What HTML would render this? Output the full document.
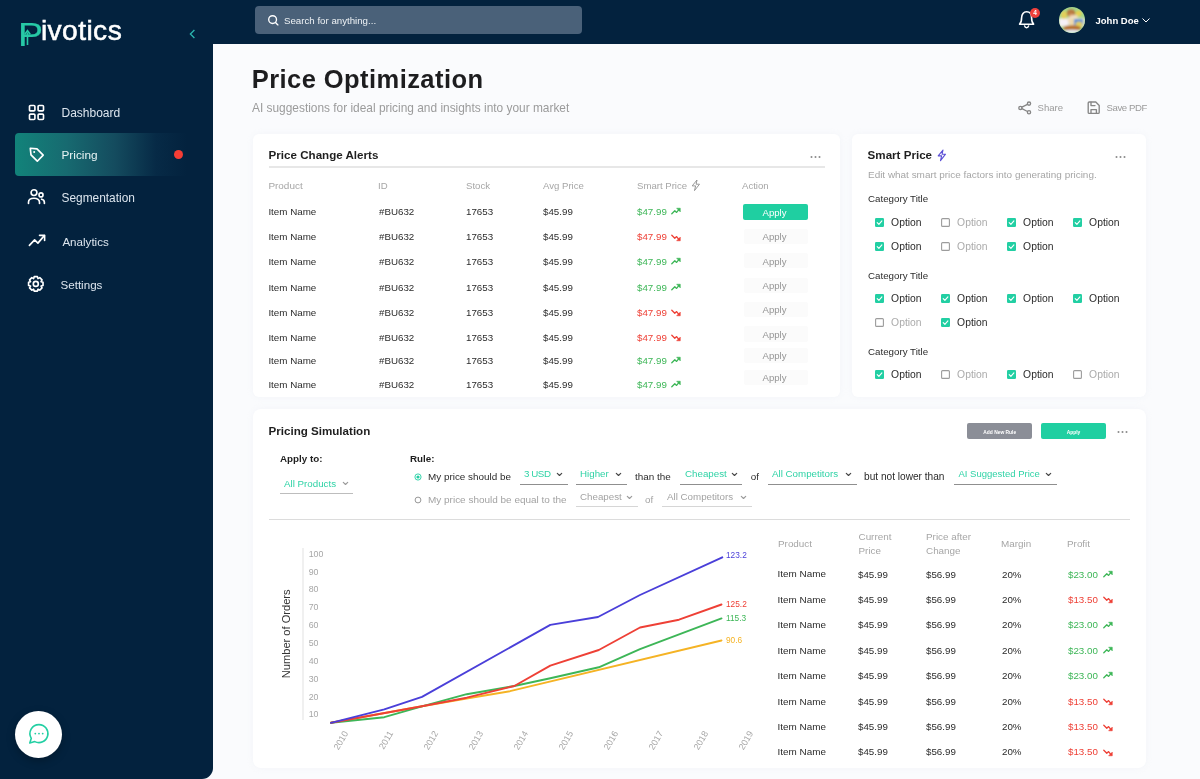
<!DOCTYPE html>
<html lang="en">
<head>
<meta charset="utf-8">
<title>Pivotics - Price Optimization</title>
<style>
*{box-sizing:border-box;margin:0;padding:0}
html,body{width:1200px;height:779px;overflow:hidden}
body{position:relative;background:#fafbfd;font-family:"Liberation Sans","DejaVu Sans",sans-serif;color:#222;font-size:10px}
.abs{position:absolute}
.t{position:absolute;white-space:nowrap;line-height:1}
.card{position:absolute;background:#fff;border-radius:6px;box-shadow:0 0 6px rgba(228,232,238,.3)}
</style>
</head>
<body>

<div class="abs" style="left:0px;top:0px;width:1200px;height:44px;background:#03223e;"></div>
<div class="abs" style="left:0px;top:0px;width:213px;height:779px;background:#03223e;border-bottom-right-radius:11px"></div>
<svg class="abs" style="left:23.6px;top:28px;" width="8" height="18" viewBox="0 0 8 18" fill="none"><path d="M3.5 17V4.5M0.8 6.2L3.5 2.6L6.2 6.2" stroke="#27c9a6" stroke-width="1.6"/></svg>
<div class="t" style="left:17.5px;top:16.2px;font-size:28.2px;height:30px;color:#fff;letter-spacing:.42px;-webkit-text-stroke:.55px #fff"><span style="display:inline-block;width:23.4px;height:10px;line-height:10px;font-size:33.5px;letter-spacing:0;color:#27c9a6;-webkit-text-stroke:.2px #27c9a6;transform:translateY(5.7px) scaleX(1.12);transform-origin:0 0;vertical-align:baseline">P</span>ivotics</div>
<svg class="abs" style="left:187px;top:28px;" width="10" height="12" viewBox="0 0 10 12" fill="none"><path d="M7.4 2L3.4 6L7.4 10" stroke="#2bb7b0" stroke-width="1.3"/></svg>
<div class="abs" style="left:15px;top:133.2px;width:172px;height:42.6px;background:linear-gradient(90deg,#12837a 0%,#176a70 30%,rgba(22,80,98,.9) 58%,rgba(10,50,78,.5) 82%,rgba(3,33,62,0) 100%);border-radius:4px"></div>
<div class="abs" style="left:173.5px;top:149.5px;width:9px;height:9px;border-radius:50%;background:#f53d35"></div>
<div class="t " style="left:61.5px;top:107.16px;font-size:12px;color:#dce5ee;font-weight:400;">Dashboard</div>
<div class="t " style="left:61.5px;top:150.24px;font-size:11.8px;color:#e8f4f4;font-weight:400;">Pricing</div>
<div class="t " style="left:61.5px;top:192.60px;font-size:11.9px;color:#dce5ee;font-weight:400;">Segmentation</div>
<div class="t " style="left:62.4px;top:235.53px;font-size:11.6px;color:#dce5ee;font-weight:400;">Analytics</div>
<div class="t " style="left:60.5px;top:278.53px;font-size:11.6px;color:#dce5ee;font-weight:400;">Settings</div>
<svg class="abs" style="left:28px;top:103.5px;" width="17" height="17" viewBox="0 0 17 17" fill="none"><g stroke="#fff" stroke-width="1.65" stroke-linecap="round" stroke-linejoin="round"><rect x="1.5" y="1.5" width="5.4" height="5.4" rx="1"/><rect x="10.1" y="1.5" width="5.4" height="5.4" rx="1"/><rect x="1.5" y="10.1" width="5.4" height="5.4" rx="1"/><rect x="10.1" y="10.1" width="5.4" height="5.4" rx="1"/></g></svg>
<svg class="abs" style="left:28px;top:146px;" width="17" height="17" viewBox="0 0 17 17" fill="none"><g stroke="#fff" stroke-width="1.65" stroke-linecap="round" stroke-linejoin="round"><path d="M2.3 2.3L9 2.9L15.2 9.1L9.3 15.2L3 8.9Z"/></g><circle cx="6.2" cy="6.1" r="1" fill="#fff"/></svg>
<svg class="abs" style="left:27px;top:188px;" width="19" height="17" viewBox="0 0 19 17" fill="none"><g stroke="#fff" stroke-width="1.65" stroke-linecap="round" stroke-linejoin="round"><circle cx="7" cy="4.6" r="2.9"/><path d="M1.5 15.5V14.2C1.5 11.8 3.6 10.2 7 10.2S12.5 11.8 12.5 14.2V15.5"/><circle cx="14" cy="6.9" r="2"/><path d="M14.6 11.2C16.4 11.5 17.4 12.7 17.4 14.4V15.5"/></g></svg>
<svg class="abs" style="left:28px;top:233px;" width="18" height="15" viewBox="0 0 18 15" fill="none"><g stroke="#fff" stroke-width="1.65" stroke-linecap="round" stroke-linejoin="round"><path d="M1.4 12.4L6.6 6.9L9.9 10.1L16.3 2.6"/><path d="M11.5 2.3H16.6V7.4"/></g></svg>
<svg class="abs" style="left:27px;top:275px;" width="18" height="18" viewBox="0 0 18 18" fill="none"><g stroke="#fff" stroke-width="1.65" stroke-linecap="round" stroke-linejoin="round"><path d="M16.02 7.29L16.02 10.51L14.07 11.07L14.06 11.10L15.05 12.86L12.76 15.15L11.00 14.16L10.97 14.17L10.41 16.12L7.19 16.12L6.63 14.17L6.60 14.16L4.84 15.15L2.55 12.86L3.54 11.10L3.53 11.07L1.58 10.51L1.58 7.29L3.53 6.73L3.54 6.70L2.55 4.94L4.84 2.65L6.60 3.64L6.63 3.63L7.19 1.68L10.41 1.68L10.97 3.63L11.00 3.64L12.76 2.65L15.05 4.94L14.06 6.70L14.07 6.73Z"/><circle cx="8.8" cy="8.9" r="2.5"/></g></svg>
<div class="abs" style="left:15.2px;top:710.6px;width:47px;height:47.3px;border-radius:50%;background:#fff;box-shadow:0 3px 8px rgba(0,0,0,.25)"></div>
<svg class="abs" style="left:27px;top:722.3px;" width="24" height="24" viewBox="0 0 24 24" fill="none"><path d="M12 2.6a9 9 0 1 1 -4.2 17l-5 1.4 1.5-4.7A9 9 0 0 1 12 2.6Z" stroke="#22cfa3" stroke-width="1.6" stroke-linejoin="round"/><circle cx="8.3" cy="11.6" r=".9" fill="#22cfa3"/><circle cx="12" cy="11.6" r=".9" fill="#22cfa3"/><circle cx="15.7" cy="11.6" r=".9" fill="#22cfa3"/></svg>
<div class="abs" style="left:255px;top:6px;width:327px;height:28.3px;background:#4a6179;border-radius:4px"></div>
<svg class="abs" style="left:266.8px;top:13.6px;" width="14" height="14" viewBox="0 0 14 14" fill="none"><circle cx="5.6" cy="5.6" r="3.9" stroke="#fff" stroke-width="1.35"/><path d="M8.5 8.5L10.9 10.9" stroke="#fff" stroke-width="1.35" stroke-linecap="round"/></svg>
<div class="t " style="left:284px;top:16.23px;font-size:9.7px;color:#eef2f5;font-weight:400;">Search for anything...</div>
<svg class="abs" style="left:1016px;top:8px;" width="22" height="24" viewBox="0 0 22 24" fill="none"><path d="M3.6 16.2C5.2 14.8 5.6 13 5.6 9.8C5.6 6.2 7.6 3.8 10.6 3.8S15.6 6.2 15.6 9.8C15.6 13 16 14.8 17.6 16.2Z" stroke="#fff" stroke-width="1.6" stroke-linejoin="round"/><path d="M8.6 17.9C8.9 19.1 9.7 19.7 10.6 19.7S12.3 19.1 12.6 17.9" stroke="#fff" stroke-width="1.5" stroke-linecap="round"/></svg>
<div class="abs" style="left:1030px;top:7.5px;width:10px;height:10px;border-radius:50%;background:#f0413c"></div>
<div class="t " style="left:1033.2px;top:9.87px;font-size:6.5px;color:#fff;font-weight:700;">4</div>
<svg class="abs" style="left:1059px;top:7.3px;" width="26" height="26" viewBox="0 0 26 26" fill="none"><defs><clipPath id="avc"><circle cx="13" cy="13" r="13"/></clipPath><filter id="avb" x="-20%" y="-20%" width="140%" height="140%"><feGaussianBlur stdDeviation="0.9"/></filter></defs><g clip-path="url(#avc)"><rect width="26" height="26" fill="#a5d68c"/><g filter="url(#avb)"><rect x="0" y="11" width="26" height="9" fill="#dfe3c8"/><ellipse cx="5" cy="8" rx="3" ry="4" fill="#e3cf5a"/><ellipse cx="19.5" cy="6.5" rx="3" ry="3" fill="#e6d04e"/><ellipse cx="12" cy="6" rx="4.2" ry="3.8" fill="#b9793f"/><ellipse cx="12.2" cy="8.8" rx="2.6" ry="2" fill="#d9a06a"/><rect x="0" y="12" width="9" height="6.5" fill="#f6f1f7"/><path d="M8 13C10 8 16 7 19 9L18 12C15 10 12 11 11.5 18Z" fill="#f1dcc0"/><rect x="15" y="12" width="9" height="7" rx="1" fill="#5c90d8"/><ellipse cx="20" cy="17.5" rx="3.5" ry="3" fill="#e2d060"/><rect x="11.5" y="12" width="3.5" height="8" fill="#efd9a8"/><ellipse cx="13" cy="21" rx="9" ry="2.8" fill="#b9722f"/><ellipse cx="13" cy="24.5" rx="8" ry="1.8" fill="#e4edf3"/></g></g></svg>
<div class="t " style="left:1095.5px;top:16.21px;font-size:9.5px;color:#fff;font-weight:700;">John Doe</div>
<svg class="abs" style="left:1141px;top:17px;" width="10" height="7" viewBox="0 0 10 7" fill="none"><path d="M1.5 1.5L5 5L8.5 1.5" stroke="#fff" stroke-width="1"/></svg>
<div class="t " style="left:251.8px;top:66.59px;font-size:25.5px;color:#1d1d1f;font-weight:700;letter-spacing:.43px">Price Optimization</div>
<div class="t " style="left:252px;top:103.20px;font-size:11.9px;color:#9b9b9b;font-weight:400;">AI suggestions for ideal pricing and insights into your market</div>
<svg class="abs" style="left:1017px;top:100px;" width="16" height="15" viewBox="0 0 16 15" fill="none"><g stroke="#868686" stroke-width="1.35" stroke-linecap="round" stroke-linejoin="round"><circle cx="3.4" cy="7.9" r="1.6"/><circle cx="12" cy="3.6" r="1.6"/><circle cx="12" cy="12.2" r="1.6"/><path d="M4.9 7.1L10.5 4.3M4.9 8.7L10.5 11.5"/></g></svg>
<div class="t " style="left:1037.5px;top:103.47px;font-size:9.6px;color:#9b9b9b;font-weight:400;">Share</div>
<svg class="abs" style="left:1086px;top:100px;" width="16" height="15" viewBox="0 0 16 15" fill="none"><g stroke="#868686" stroke-width="1.35" stroke-linecap="round" stroke-linejoin="round"><path d="M3.2 2H9.8L13.2 5.4V12.4Q13.2 13.4 12.2 13.4H3.2Q2.2 13.4 2.2 12.4V3Q2.2 2 3.2 2Z"/><path d="M5 2.2V5.6H9"/><path d="M5 13.2V9.6H10.4V13.2"/></g></svg>
<div class="t " style="left:1106.5px;top:103.47px;font-size:9.6px;color:#9b9b9b;font-weight:400;letter-spacing:-.42px">Save PDF</div>
<div class="card" style="left:253px;top:134px;width:587px;height:263px"></div>
<div class="card" style="left:852px;top:134px;width:294px;height:263px"></div>
<div class="card" style="left:253px;top:409px;width:893px;height:359px;border-radius:8px"></div>
<div class="t " style="left:268.6px;top:148.93px;font-size:11.6px;color:#1f1f1f;font-weight:700;">Price Change Alerts</div>
<svg class="abs" style="left:810px;top:154.5px;" width="12" height="4" viewBox="0 0 12 4" fill="none"><circle cx="1.5" cy="2" r="1" fill="#8a8a8a"/><circle cx="5.5" cy="2" r="1" fill="#8a8a8a"/><circle cx="9.5" cy="2" r="1" fill="#8a8a8a"/></svg>
<div class="abs" style="left:269px;top:166.4px;width:556px;height:1.6px;background:#e7e7e7;"></div>
<div class="t " style="left:268.4px;top:180.52px;font-size:9.95px;color:#a6a6a6;font-weight:400;">Product</div>
<div class="t " style="left:378px;top:180.67px;font-size:9.6px;color:#a6a6a6;font-weight:400;">ID</div>
<div class="t " style="left:466px;top:180.67px;font-size:9.6px;color:#a6a6a6;font-weight:400;">Stock</div>
<div class="t " style="left:543px;top:180.67px;font-size:9.6px;color:#a6a6a6;font-weight:400;">Avg Price</div>
<div class="t " style="left:637px;top:180.67px;font-size:9.6px;color:#a6a6a6;font-weight:400;">Smart Price</div>
<div class="t " style="left:742px;top:180.67px;font-size:9.6px;color:#a6a6a6;font-weight:400;">Action</div>
<svg class="abs" style="left:690.5px;top:179.2px;" width="10" height="13" viewBox="0 0 10 13" fill="none"><path d="M6 1L1.2 6.9H4.6L3.5 11.6L8.5 5.2H5.1Z" stroke="#8c8c8c" stroke-width="0.9" stroke-linejoin="round"/></svg>
<div class="t " style="left:268.4px;top:206.98px;font-size:9.8px;color:#2b2b2b;font-weight:400;">Item Name</div>
<div class="t " style="left:379px;top:207.00px;font-size:9.75px;color:#2b2b2b;font-weight:400;">#BU632</div>
<div class="t " style="left:466px;top:207.00px;font-size:9.75px;color:#2b2b2b;font-weight:400;">17653</div>
<div class="t " style="left:543px;top:207.00px;font-size:9.75px;color:#2b2b2b;font-weight:400;">$45.99</div>
<div class="t " style="left:637px;top:207.00px;font-size:9.75px;color:#3db657;font-weight:400;">$47.99</div>
<svg class="abs" style="left:671px;top:207.2px;" width="10" height="8" viewBox="0 0 10 8" fill="none"><path d="M0.8 6.8L3.8 3.8L5.6 5.4L8.2 2.2" stroke="#3db657" stroke-width="1.3" stroke-linecap="round" stroke-linejoin="round"/><path d="M5.6 1.2H9.3V4.9Z" fill="#3db657" stroke="#3db657" stroke-width=".5" stroke-linejoin="round"/></svg>
<div class="abs" style="left:743px;top:204.2px;width:64.5px;height:15.8px;background:#1fcfa1;border-radius:2px"></div>
<div class="t " style="left:762.5px;top:207.77px;font-size:9.6px;color:#fff;font-weight:400;">Apply</div>
<div class="t " style="left:268.4px;top:232.18px;font-size:9.8px;color:#2b2b2b;font-weight:400;">Item Name</div>
<div class="t " style="left:379px;top:232.20px;font-size:9.75px;color:#2b2b2b;font-weight:400;">#BU632</div>
<div class="t " style="left:466px;top:232.20px;font-size:9.75px;color:#2b2b2b;font-weight:400;">17653</div>
<div class="t " style="left:543px;top:232.20px;font-size:9.75px;color:#2b2b2b;font-weight:400;">$45.99</div>
<div class="t " style="left:637px;top:232.20px;font-size:9.75px;color:#ee4036;font-weight:400;">$47.99</div>
<svg class="abs" style="left:671px;top:233.7px;" width="10" height="8" viewBox="0 0 10 8" fill="none"><path d="M0.8 1.2L3.8 4.2L5.6 2.6L8.2 5.8" stroke="#ee4036" stroke-width="1.3" stroke-linecap="round" stroke-linejoin="round"/><path d="M5.6 6.8H9.3V3.1Z" fill="#ee4036" stroke="#ee4036" stroke-width=".5" stroke-linejoin="round"/></svg>
<div class="abs" style="left:744px;top:228.7px;width:64px;height:15.4px;background:#fbfbfb;border-radius:2px"></div>
<div class="t " style="left:762.5px;top:232.27px;font-size:9.6px;color:#959595;font-weight:400;">Apply</div>
<div class="t " style="left:268.4px;top:257.18px;font-size:9.8px;color:#2b2b2b;font-weight:400;">Item Name</div>
<div class="t " style="left:379px;top:257.20px;font-size:9.75px;color:#2b2b2b;font-weight:400;">#BU632</div>
<div class="t " style="left:466px;top:257.20px;font-size:9.75px;color:#2b2b2b;font-weight:400;">17653</div>
<div class="t " style="left:543px;top:257.20px;font-size:9.75px;color:#2b2b2b;font-weight:400;">$45.99</div>
<div class="t " style="left:637px;top:257.20px;font-size:9.75px;color:#3db657;font-weight:400;">$47.99</div>
<svg class="abs" style="left:671px;top:257.40000000000003px;" width="10" height="8" viewBox="0 0 10 8" fill="none"><path d="M0.8 6.8L3.8 3.8L5.6 5.4L8.2 2.2" stroke="#3db657" stroke-width="1.3" stroke-linecap="round" stroke-linejoin="round"/><path d="M5.6 1.2H9.3V4.9Z" fill="#3db657" stroke="#3db657" stroke-width=".5" stroke-linejoin="round"/></svg>
<div class="abs" style="left:744px;top:253.09999999999997px;width:64px;height:15.4px;background:#fbfbfb;border-radius:2px"></div>
<div class="t " style="left:762.5px;top:256.67px;font-size:9.6px;color:#959595;font-weight:400;">Apply</div>
<div class="t " style="left:268.4px;top:282.58px;font-size:9.8px;color:#2b2b2b;font-weight:400;">Item Name</div>
<div class="t " style="left:379px;top:282.61px;font-size:9.75px;color:#2b2b2b;font-weight:400;">#BU632</div>
<div class="t " style="left:466px;top:282.61px;font-size:9.75px;color:#2b2b2b;font-weight:400;">17653</div>
<div class="t " style="left:543px;top:282.61px;font-size:9.75px;color:#2b2b2b;font-weight:400;">$45.99</div>
<div class="t " style="left:637px;top:282.61px;font-size:9.75px;color:#3db657;font-weight:400;">$47.99</div>
<svg class="abs" style="left:671px;top:282.80000000000007px;" width="10" height="8" viewBox="0 0 10 8" fill="none"><path d="M0.8 6.8L3.8 3.8L5.6 5.4L8.2 2.2" stroke="#3db657" stroke-width="1.3" stroke-linecap="round" stroke-linejoin="round"/><path d="M5.6 1.2H9.3V4.9Z" fill="#3db657" stroke="#3db657" stroke-width=".5" stroke-linejoin="round"/></svg>
<div class="abs" style="left:744px;top:277.5px;width:64px;height:15.4px;background:#fbfbfb;border-radius:2px"></div>
<div class="t " style="left:762.5px;top:281.07px;font-size:9.6px;color:#959595;font-weight:400;">Apply</div>
<div class="t " style="left:268.4px;top:307.78px;font-size:9.8px;color:#2b2b2b;font-weight:400;">Item Name</div>
<div class="t " style="left:379px;top:307.81px;font-size:9.75px;color:#2b2b2b;font-weight:400;">#BU632</div>
<div class="t " style="left:466px;top:307.81px;font-size:9.75px;color:#2b2b2b;font-weight:400;">17653</div>
<div class="t " style="left:543px;top:307.81px;font-size:9.75px;color:#2b2b2b;font-weight:400;">$45.99</div>
<div class="t " style="left:637px;top:307.81px;font-size:9.75px;color:#ee4036;font-weight:400;">$47.99</div>
<svg class="abs" style="left:671px;top:309.3px;" width="10" height="8" viewBox="0 0 10 8" fill="none"><path d="M0.8 1.2L3.8 4.2L5.6 2.6L8.2 5.8" stroke="#ee4036" stroke-width="1.3" stroke-linecap="round" stroke-linejoin="round"/><path d="M5.6 6.8H9.3V3.1Z" fill="#ee4036" stroke="#ee4036" stroke-width=".5" stroke-linejoin="round"/></svg>
<div class="abs" style="left:744px;top:301.9px;width:64px;height:15.4px;background:#fbfbfb;border-radius:2px"></div>
<div class="t " style="left:762.5px;top:305.47px;font-size:9.6px;color:#959595;font-weight:400;">Apply</div>
<div class="t " style="left:268.4px;top:332.58px;font-size:9.8px;color:#2b2b2b;font-weight:400;">Item Name</div>
<div class="t " style="left:379px;top:332.61px;font-size:9.75px;color:#2b2b2b;font-weight:400;">#BU632</div>
<div class="t " style="left:466px;top:332.61px;font-size:9.75px;color:#2b2b2b;font-weight:400;">17653</div>
<div class="t " style="left:543px;top:332.61px;font-size:9.75px;color:#2b2b2b;font-weight:400;">$45.99</div>
<div class="t " style="left:637px;top:332.61px;font-size:9.75px;color:#ee4036;font-weight:400;">$47.99</div>
<svg class="abs" style="left:671px;top:334.1px;" width="10" height="8" viewBox="0 0 10 8" fill="none"><path d="M0.8 1.2L3.8 4.2L5.6 2.6L8.2 5.8" stroke="#ee4036" stroke-width="1.3" stroke-linecap="round" stroke-linejoin="round"/><path d="M5.6 6.8H9.3V3.1Z" fill="#ee4036" stroke="#ee4036" stroke-width=".5" stroke-linejoin="round"/></svg>
<div class="abs" style="left:744px;top:326.3px;width:64px;height:15.4px;background:#fbfbfb;border-radius:2px"></div>
<div class="t " style="left:762.5px;top:329.87px;font-size:9.6px;color:#959595;font-weight:400;">Apply</div>
<div class="t " style="left:268.4px;top:355.98px;font-size:9.8px;color:#2b2b2b;font-weight:400;">Item Name</div>
<div class="t " style="left:379px;top:356.00px;font-size:9.75px;color:#2b2b2b;font-weight:400;">#BU632</div>
<div class="t " style="left:466px;top:356.00px;font-size:9.75px;color:#2b2b2b;font-weight:400;">17653</div>
<div class="t " style="left:543px;top:356.00px;font-size:9.75px;color:#2b2b2b;font-weight:400;">$45.99</div>
<div class="t " style="left:637px;top:356.00px;font-size:9.75px;color:#3db657;font-weight:400;">$47.99</div>
<svg class="abs" style="left:671px;top:356.20000000000005px;" width="10" height="8" viewBox="0 0 10 8" fill="none"><path d="M0.8 6.8L3.8 3.8L5.6 5.4L8.2 2.2" stroke="#3db657" stroke-width="1.3" stroke-linecap="round" stroke-linejoin="round"/><path d="M5.6 1.2H9.3V4.9Z" fill="#3db657" stroke="#3db657" stroke-width=".5" stroke-linejoin="round"/></svg>
<div class="abs" style="left:744px;top:347.9px;width:64px;height:15.4px;background:#fbfbfb;border-radius:2px"></div>
<div class="t " style="left:762.5px;top:351.47px;font-size:9.6px;color:#959595;font-weight:400;">Apply</div>
<div class="t " style="left:268.4px;top:379.98px;font-size:9.8px;color:#2b2b2b;font-weight:400;">Item Name</div>
<div class="t " style="left:379px;top:380.00px;font-size:9.75px;color:#2b2b2b;font-weight:400;">#BU632</div>
<div class="t " style="left:466px;top:380.00px;font-size:9.75px;color:#2b2b2b;font-weight:400;">17653</div>
<div class="t " style="left:543px;top:380.00px;font-size:9.75px;color:#2b2b2b;font-weight:400;">$45.99</div>
<div class="t " style="left:637px;top:380.00px;font-size:9.75px;color:#3db657;font-weight:400;">$47.99</div>
<svg class="abs" style="left:671px;top:380.20000000000005px;" width="10" height="8" viewBox="0 0 10 8" fill="none"><path d="M0.8 6.8L3.8 3.8L5.6 5.4L8.2 2.2" stroke="#3db657" stroke-width="1.3" stroke-linecap="round" stroke-linejoin="round"/><path d="M5.6 1.2H9.3V4.9Z" fill="#3db657" stroke="#3db657" stroke-width=".5" stroke-linejoin="round"/></svg>
<div class="abs" style="left:744px;top:369.7px;width:64px;height:15.4px;background:#fbfbfb;border-radius:2px"></div>
<div class="t " style="left:762.5px;top:373.27px;font-size:9.6px;color:#959595;font-weight:400;">Apply</div>
<div class="t " style="left:867.6px;top:149.03px;font-size:11.6px;color:#1f1f1f;font-weight:700;">Smart Price</div>
<svg class="abs" style="left:937px;top:148.5px;" width="10" height="13" viewBox="0 0 10 13" fill="none"><path d="M6 1L1.2 6.9H4.6L3.5 11.6L8.5 5.2H5.1Z" stroke="#5b4fd6" stroke-width="1.1" stroke-linejoin="round"/></svg>
<svg class="abs" style="left:1115px;top:154.5px;" width="12" height="4" viewBox="0 0 12 4" fill="none"><circle cx="1.5" cy="2" r="1" fill="#8a8a8a"/><circle cx="5.5" cy="2" r="1" fill="#8a8a8a"/><circle cx="9.5" cy="2" r="1" fill="#8a8a8a"/></svg>
<div class="t " style="left:868px;top:169.62px;font-size:9.95px;color:#a6a6a6;font-weight:400;">Edit what smart price factors into generating pricing.</div>
<div class="t " style="left:868px;top:194.41px;font-size:9.75px;color:#2b2b2b;font-weight:400;">Category Title</div>
<div class="t " style="left:868px;top:270.60px;font-size:9.75px;color:#2b2b2b;font-weight:400;">Category Title</div>
<div class="t " style="left:868px;top:346.90px;font-size:9.75px;color:#2b2b2b;font-weight:400;">Category Title</div>
<svg class="abs" style="left:875.0px;top:218.1px;" width="9" height="9" viewBox="0 0 9 9" fill="none"><rect x="0" y="0" width="9" height="9" rx="1.2" fill="#22cfa3"/><path d="M2.2 4.6L3.9 6.3L6.9 2.9" stroke="#fff" stroke-width="1.1" stroke-linecap="round" stroke-linejoin="round"/></svg>
<div class="t " style="left:891.1px;top:218.15px;font-size:10.35px;color:#2b2b2b;font-weight:400;">Option</div>
<svg class="abs" style="left:941.0px;top:218.1px;" width="9" height="9" viewBox="0 0 9 9" fill="none"><rect x=".6" y=".6" width="7.8" height="7.8" rx="1" fill="#fff" stroke="#9c9c9c" stroke-width="1.1"/></svg>
<div class="t " style="left:957.1px;top:218.15px;font-size:10.35px;color:#ababab;font-weight:400;">Option</div>
<svg class="abs" style="left:1007.0px;top:218.1px;" width="9" height="9" viewBox="0 0 9 9" fill="none"><rect x="0" y="0" width="9" height="9" rx="1.2" fill="#22cfa3"/><path d="M2.2 4.6L3.9 6.3L6.9 2.9" stroke="#fff" stroke-width="1.1" stroke-linecap="round" stroke-linejoin="round"/></svg>
<div class="t " style="left:1023.1px;top:218.15px;font-size:10.35px;color:#2b2b2b;font-weight:400;">Option</div>
<svg class="abs" style="left:1073.0px;top:218.1px;" width="9" height="9" viewBox="0 0 9 9" fill="none"><rect x="0" y="0" width="9" height="9" rx="1.2" fill="#22cfa3"/><path d="M2.2 4.6L3.9 6.3L6.9 2.9" stroke="#fff" stroke-width="1.1" stroke-linecap="round" stroke-linejoin="round"/></svg>
<div class="t " style="left:1089.1px;top:218.15px;font-size:10.35px;color:#2b2b2b;font-weight:400;">Option</div>
<svg class="abs" style="left:875.0px;top:241.5px;" width="9" height="9" viewBox="0 0 9 9" fill="none"><rect x="0" y="0" width="9" height="9" rx="1.2" fill="#22cfa3"/><path d="M2.2 4.6L3.9 6.3L6.9 2.9" stroke="#fff" stroke-width="1.1" stroke-linecap="round" stroke-linejoin="round"/></svg>
<div class="t " style="left:891.1px;top:241.55px;font-size:10.35px;color:#2b2b2b;font-weight:400;">Option</div>
<svg class="abs" style="left:941.0px;top:241.5px;" width="9" height="9" viewBox="0 0 9 9" fill="none"><rect x=".6" y=".6" width="7.8" height="7.8" rx="1" fill="#fff" stroke="#9c9c9c" stroke-width="1.1"/></svg>
<div class="t " style="left:957.1px;top:241.55px;font-size:10.35px;color:#ababab;font-weight:400;">Option</div>
<svg class="abs" style="left:1007.0px;top:241.5px;" width="9" height="9" viewBox="0 0 9 9" fill="none"><rect x="0" y="0" width="9" height="9" rx="1.2" fill="#22cfa3"/><path d="M2.2 4.6L3.9 6.3L6.9 2.9" stroke="#fff" stroke-width="1.1" stroke-linecap="round" stroke-linejoin="round"/></svg>
<div class="t " style="left:1023.1px;top:241.55px;font-size:10.35px;color:#2b2b2b;font-weight:400;">Option</div>
<svg class="abs" style="left:875.0px;top:294.3px;" width="9" height="9" viewBox="0 0 9 9" fill="none"><rect x="0" y="0" width="9" height="9" rx="1.2" fill="#22cfa3"/><path d="M2.2 4.6L3.9 6.3L6.9 2.9" stroke="#fff" stroke-width="1.1" stroke-linecap="round" stroke-linejoin="round"/></svg>
<div class="t " style="left:891.1px;top:294.35px;font-size:10.35px;color:#2b2b2b;font-weight:400;">Option</div>
<svg class="abs" style="left:941.0px;top:294.3px;" width="9" height="9" viewBox="0 0 9 9" fill="none"><rect x="0" y="0" width="9" height="9" rx="1.2" fill="#22cfa3"/><path d="M2.2 4.6L3.9 6.3L6.9 2.9" stroke="#fff" stroke-width="1.1" stroke-linecap="round" stroke-linejoin="round"/></svg>
<div class="t " style="left:957.1px;top:294.35px;font-size:10.35px;color:#2b2b2b;font-weight:400;">Option</div>
<svg class="abs" style="left:1007.0px;top:294.3px;" width="9" height="9" viewBox="0 0 9 9" fill="none"><rect x="0" y="0" width="9" height="9" rx="1.2" fill="#22cfa3"/><path d="M2.2 4.6L3.9 6.3L6.9 2.9" stroke="#fff" stroke-width="1.1" stroke-linecap="round" stroke-linejoin="round"/></svg>
<div class="t " style="left:1023.1px;top:294.35px;font-size:10.35px;color:#2b2b2b;font-weight:400;">Option</div>
<svg class="abs" style="left:1073.0px;top:294.3px;" width="9" height="9" viewBox="0 0 9 9" fill="none"><rect x="0" y="0" width="9" height="9" rx="1.2" fill="#22cfa3"/><path d="M2.2 4.6L3.9 6.3L6.9 2.9" stroke="#fff" stroke-width="1.1" stroke-linecap="round" stroke-linejoin="round"/></svg>
<div class="t " style="left:1089.1px;top:294.35px;font-size:10.35px;color:#2b2b2b;font-weight:400;">Option</div>
<svg class="abs" style="left:875.0px;top:317.9px;" width="9" height="9" viewBox="0 0 9 9" fill="none"><rect x=".6" y=".6" width="7.8" height="7.8" rx="1" fill="#fff" stroke="#9c9c9c" stroke-width="1.1"/></svg>
<div class="t " style="left:891.1px;top:317.95px;font-size:10.35px;color:#ababab;font-weight:400;">Option</div>
<svg class="abs" style="left:941.0px;top:317.9px;" width="9" height="9" viewBox="0 0 9 9" fill="none"><rect x="0" y="0" width="9" height="9" rx="1.2" fill="#22cfa3"/><path d="M2.2 4.6L3.9 6.3L6.9 2.9" stroke="#fff" stroke-width="1.1" stroke-linecap="round" stroke-linejoin="round"/></svg>
<div class="t " style="left:957.1px;top:317.95px;font-size:10.35px;color:#2b2b2b;font-weight:400;">Option</div>
<svg class="abs" style="left:875.0px;top:370.3px;" width="9" height="9" viewBox="0 0 9 9" fill="none"><rect x="0" y="0" width="9" height="9" rx="1.2" fill="#22cfa3"/><path d="M2.2 4.6L3.9 6.3L6.9 2.9" stroke="#fff" stroke-width="1.1" stroke-linecap="round" stroke-linejoin="round"/></svg>
<div class="t " style="left:891.1px;top:370.35px;font-size:10.35px;color:#2b2b2b;font-weight:400;">Option</div>
<svg class="abs" style="left:941.0px;top:370.3px;" width="9" height="9" viewBox="0 0 9 9" fill="none"><rect x=".6" y=".6" width="7.8" height="7.8" rx="1" fill="#fff" stroke="#9c9c9c" stroke-width="1.1"/></svg>
<div class="t " style="left:957.1px;top:370.35px;font-size:10.35px;color:#ababab;font-weight:400;">Option</div>
<svg class="abs" style="left:1007.0px;top:370.3px;" width="9" height="9" viewBox="0 0 9 9" fill="none"><rect x="0" y="0" width="9" height="9" rx="1.2" fill="#22cfa3"/><path d="M2.2 4.6L3.9 6.3L6.9 2.9" stroke="#fff" stroke-width="1.1" stroke-linecap="round" stroke-linejoin="round"/></svg>
<div class="t " style="left:1023.1px;top:370.35px;font-size:10.35px;color:#2b2b2b;font-weight:400;">Option</div>
<svg class="abs" style="left:1073.0px;top:370.3px;" width="9" height="9" viewBox="0 0 9 9" fill="none"><rect x=".6" y=".6" width="7.8" height="7.8" rx="1" fill="#fff" stroke="#9c9c9c" stroke-width="1.1"/></svg>
<div class="t " style="left:1089.1px;top:370.35px;font-size:10.35px;color:#ababab;font-weight:400;">Option</div>
<div class="t " style="left:268.5px;top:425.43px;font-size:11.6px;color:#1f1f1f;font-weight:700;">Pricing Simulation</div>
<div class="abs" style="left:967px;top:423.4px;width:64.7px;height:16px;background:#8b8e97;border-radius:2px"></div>
<div class="t " style="left:983.3px;top:430.84px;font-size:4.9px;color:#fff;font-weight:700;">Add New Rule</div>
<div class="abs" style="left:1041px;top:423.4px;width:65px;height:16px;background:#1fcfa1;border-radius:2px"></div>
<div class="t " style="left:1066.7px;top:430.84px;font-size:4.9px;color:#fff;font-weight:700;">Apply</div>
<svg class="abs" style="left:1117px;top:430.3px;" width="12" height="4" viewBox="0 0 12 4" fill="none"><circle cx="1.5" cy="2" r="1" fill="#8a8a8a"/><circle cx="5.5" cy="2" r="1" fill="#8a8a8a"/><circle cx="9.5" cy="2" r="1" fill="#8a8a8a"/></svg>
<div class="t " style="left:280px;top:453.68px;font-size:9.8px;color:#1f1f1f;font-weight:700;">Apply to:</div>
<div class="t " style="left:410px;top:453.68px;font-size:9.8px;color:#1f1f1f;font-weight:700;">Rule:</div>
<div class="t " style="left:284px;top:478.60px;font-size:9.75px;color:#2fd3a6;font-weight:400;">All Products</div>
<div class="abs" style="left:280px;top:493px;width:73px;height:1px;background:#bdbdbd;"></div>
<svg class="abs" style="left:342px;top:481px;" width="7" height="5" viewBox="0 0 7 5" fill="none"><path d="M1.3 1.4L3.5 3.5L5.7 1.4" stroke="#9a9a9a" stroke-width="1.15" stroke-linecap="round" stroke-linejoin="round"/></svg>
<svg class="abs" style="left:414px;top:473px;" width="8" height="8" viewBox="0 0 8 8" fill="none"><circle cx="4" cy="4" r="3.1" stroke="#22cfa3" stroke-width=".9"/><circle cx="4" cy="4" r="1.6" fill="#22cfa3"/></svg>
<div class="t " style="left:428px;top:471.64px;font-size:9.9px;color:#2b2b2b;font-weight:400;">My price should be</div>
<div class="t " style="left:524px;top:469.10px;font-size:9.75px;color:#2fd3a6;font-weight:400;"><span style="letter-spacing:-.45px">3 USD</span></div>
<div class="abs" style="left:520px;top:483.8px;width:48px;height:1px;background:#8f8f8f;"></div>
<svg class="abs" style="left:555.7px;top:471.5px;" width="7" height="5" viewBox="0 0 7 5" fill="none"><path d="M1.3 1.4L3.5 3.5L5.7 1.4" stroke="#444" stroke-width="1.15" stroke-linecap="round" stroke-linejoin="round"/></svg>
<div class="t " style="left:580px;top:469.10px;font-size:9.75px;color:#2fd3a6;font-weight:400;">Higher</div>
<div class="abs" style="left:576px;top:483.8px;width:51px;height:1px;background:#8f8f8f;"></div>
<svg class="abs" style="left:615.3px;top:471.5px;" width="7" height="5" viewBox="0 0 7 5" fill="none"><path d="M1.3 1.4L3.5 3.5L5.7 1.4" stroke="#444" stroke-width="1.15" stroke-linecap="round" stroke-linejoin="round"/></svg>
<div class="t " style="left:635px;top:471.64px;font-size:9.9px;color:#2b2b2b;font-weight:400;">than the</div>
<div class="t " style="left:685px;top:469.10px;font-size:9.75px;color:#2fd3a6;font-weight:400;">Cheapest</div>
<div class="abs" style="left:680px;top:483.8px;width:62px;height:1px;background:#8f8f8f;"></div>
<svg class="abs" style="left:730.5px;top:471.5px;" width="7" height="5" viewBox="0 0 7 5" fill="none"><path d="M1.3 1.4L3.5 3.5L5.7 1.4" stroke="#444" stroke-width="1.15" stroke-linecap="round" stroke-linejoin="round"/></svg>
<div class="t " style="left:750.7px;top:471.64px;font-size:9.9px;color:#2b2b2b;font-weight:400;">of</div>
<div class="t " style="left:772px;top:469.10px;font-size:9.75px;color:#2fd3a6;font-weight:400;">All Competitors</div>
<div class="abs" style="left:768px;top:483.8px;width:89px;height:1px;background:#8f8f8f;"></div>
<svg class="abs" style="left:845px;top:471.5px;" width="7" height="5" viewBox="0 0 7 5" fill="none"><path d="M1.3 1.4L3.5 3.5L5.7 1.4" stroke="#444" stroke-width="1.15" stroke-linecap="round" stroke-linejoin="round"/></svg>
<div class="t " style="left:864px;top:471.54px;font-size:10.15px;color:#2b2b2b;font-weight:400;">but not lower than</div>
<div class="t " style="left:958.5px;top:469.21px;font-size:9.5px;color:#2fd3a6;font-weight:400;">AI Suggested Price</div>
<div class="abs" style="left:954px;top:483.8px;width:103px;height:1px;background:#8f8f8f;"></div>
<svg class="abs" style="left:1044.5px;top:471.5px;" width="7" height="5" viewBox="0 0 7 5" fill="none"><path d="M1.3 1.4L3.5 3.5L5.7 1.4" stroke="#444" stroke-width="1.15" stroke-linecap="round" stroke-linejoin="round"/></svg>
<svg class="abs" style="left:414px;top:495.6px;" width="8" height="8" viewBox="0 0 8 8" fill="none"><circle cx="4" cy="4" r="2.9" stroke="#8c8c8c" stroke-width=".9"/></svg>
<div class="t " style="left:428px;top:494.61px;font-size:9.97px;color:#a3a3a3;font-weight:400;">My price should be equal to the</div>
<div class="t " style="left:580px;top:492.00px;font-size:9.75px;color:#a3a3a3;font-weight:400;">Cheapest</div>
<div class="abs" style="left:576px;top:505.6px;width:62px;height:1px;background:#d6d6d6;"></div>
<svg class="abs" style="left:626px;top:494.5px;" width="7" height="5" viewBox="0 0 7 5" fill="none"><path d="M1.3 1.4L3.5 3.5L5.7 1.4" stroke="#9a9a9a" stroke-width="1.15" stroke-linecap="round" stroke-linejoin="round"/></svg>
<div class="t " style="left:645px;top:494.70px;font-size:9.75px;color:#a3a3a3;font-weight:400;">of</div>
<div class="t " style="left:667px;top:492.00px;font-size:9.75px;color:#a3a3a3;font-weight:400;">All Competitors</div>
<div class="abs" style="left:662px;top:505.6px;width:90px;height:1px;background:#d6d6d6;"></div>
<svg class="abs" style="left:739.5px;top:494.5px;" width="7" height="5" viewBox="0 0 7 5" fill="none"><path d="M1.3 1.4L3.5 3.5L5.7 1.4" stroke="#9a9a9a" stroke-width="1.15" stroke-linecap="round" stroke-linejoin="round"/></svg>
<div class="abs" style="left:269px;top:519px;width:861px;height:1px;background:#dcdcdc;"></div>
<svg class="abs" style="left:253px;top:520px" width="520" height="250" viewBox="253 520 520 250" fill="none" font-family="Liberation Sans, DejaVu Sans, sans-serif"><path d="M303 548V720" stroke="#ebebeb" stroke-width="1.5"/><text x="308.7" y="556.6" font-size="8.8" fill="#a6a6a6">100</text><text x="308.7" y="574.6" font-size="8.8" fill="#a6a6a6">90</text><text x="308.7" y="592.4" font-size="8.8" fill="#a6a6a6">80</text><text x="308.7" y="610.3" font-size="8.8" fill="#a6a6a6">70</text><text x="308.7" y="628.1" font-size="8.8" fill="#a6a6a6">60</text><text x="308.7" y="646.1" font-size="8.8" fill="#a6a6a6">50</text><text x="308.7" y="663.8" font-size="8.8" fill="#a6a6a6">40</text><text x="308.7" y="681.7" font-size="8.8" fill="#a6a6a6">30</text><text x="308.7" y="699.5" font-size="8.8" fill="#a6a6a6">20</text><text x="308.7" y="717.4" font-size="8.8" fill="#a6a6a6">10</text><text transform="translate(289.8 633.8) rotate(-90)" text-anchor="middle" font-size="11.1" fill="#333">Number of Orders</text><text transform="translate(344.0 741.0) rotate(-60)" text-anchor="end" font-size="9" fill="#a6a6a6" x="0" y="0" dx="9" dy="0">2010</text><text transform="translate(389.0 741.0) rotate(-60)" text-anchor="end" font-size="9" fill="#a6a6a6" x="0" y="0" dx="9" dy="0">2011</text><text transform="translate(434.0 741.0) rotate(-60)" text-anchor="end" font-size="9" fill="#a6a6a6" x="0" y="0" dx="9" dy="0">2012</text><text transform="translate(479.0 741.0) rotate(-60)" text-anchor="end" font-size="9" fill="#a6a6a6" x="0" y="0" dx="9" dy="0">2013</text><text transform="translate(524.0 741.0) rotate(-60)" text-anchor="end" font-size="9" fill="#a6a6a6" x="0" y="0" dx="9" dy="0">2014</text><text transform="translate(569.0 741.0) rotate(-60)" text-anchor="end" font-size="9" fill="#a6a6a6" x="0" y="0" dx="9" dy="0">2015</text><text transform="translate(614.0 741.0) rotate(-60)" text-anchor="end" font-size="9" fill="#a6a6a6" x="0" y="0" dx="9" dy="0">2016</text><text transform="translate(659.0 741.0) rotate(-60)" text-anchor="end" font-size="9" fill="#a6a6a6" x="0" y="0" dx="9" dy="0">2017</text><text transform="translate(704.0 741.0) rotate(-60)" text-anchor="end" font-size="9" fill="#a6a6a6" x="0" y="0" dx="9" dy="0">2018</text><text transform="translate(749.0 741.0) rotate(-60)" text-anchor="end" font-size="9" fill="#a6a6a6" x="0" y="0" dx="9" dy="0">2019</text><path d="M331 722.8L422 706.3L466.7 698.5L510 691.2L721.5 640.5" stroke="#f5b324" stroke-width="1.9" stroke-linejoin="round" stroke-linecap="round"/><path d="M331 722.8L384.3 717.2L422 706.3L466.7 694.2L514.3 686L550.3 678.2L598.8 667.3L640 649.1L721.5 618.4" stroke="#3db657" stroke-width="1.9" stroke-linejoin="round" stroke-linecap="round"/><path d="M331 722.8L422 706.3L466.7 697.7L514.3 686L550.3 665.6L598.8 650L640 627.5L679 619.7L721.5 604.5" stroke="#ee4036" stroke-width="1.9" stroke-linejoin="round" stroke-linecap="round"/><path d="M331 722.8L384.3 709.4L422 696.8L550.3 624.9L598 617L640 595L722.3 557.3" stroke="#4a3fd9" stroke-width="1.9" stroke-linejoin="round" stroke-linecap="round"/><text x="726" y="558.3" font-size="8.3" fill="#4a3fd9">123.2</text><text x="726" y="607.3" font-size="8.3" fill="#ee4036">125.2</text><text x="726" y="621.2" font-size="8.3" fill="#3db657">115.3</text><text x="726" y="643.4" font-size="8.3" fill="#f5b324">90.6</text></svg>
<div class="t " style="left:778px;top:538.84px;font-size:9.9px;color:#a6a6a6;font-weight:400;">Product</div>
<div class="t " style="left:858.5px;top:532.04px;font-size:9.9px;color:#a6a6a6;font-weight:400;">Current</div>
<div class="t " style="left:858.5px;top:546.34px;font-size:9.9px;color:#a6a6a6;font-weight:400;">Price</div>
<div class="t " style="left:926px;top:532.04px;font-size:9.9px;color:#a6a6a6;font-weight:400;">Price after</div>
<div class="t " style="left:926px;top:546.34px;font-size:9.9px;color:#a6a6a6;font-weight:400;">Change</div>
<div class="t " style="left:1001px;top:538.84px;font-size:9.9px;color:#a6a6a6;font-weight:400;">Margin</div>
<div class="t " style="left:1067px;top:538.84px;font-size:9.9px;color:#a6a6a6;font-weight:400;">Profit</div>
<div class="t " style="left:777.6px;top:569.44px;font-size:9.9px;color:#2b2b2b;font-weight:400;">Item Name</div>
<div class="t " style="left:858px;top:569.50px;font-size:9.75px;color:#2b2b2b;font-weight:400;">$45.99</div>
<div class="t " style="left:926px;top:569.50px;font-size:9.75px;color:#2b2b2b;font-weight:400;">$56.99</div>
<div class="t " style="left:1002px;top:569.50px;font-size:9.75px;color:#2b2b2b;font-weight:400;">20%</div>
<div class="t " style="left:1068px;top:569.50px;font-size:9.75px;color:#3db657;font-weight:400;">$23.00</div>
<svg class="abs" style="left:1103px;top:569.7px;" width="10" height="8" viewBox="0 0 10 8" fill="none"><path d="M0.8 6.8L3.8 3.8L5.6 5.4L8.2 2.2" stroke="#3db657" stroke-width="1.3" stroke-linecap="round" stroke-linejoin="round"/><path d="M5.6 1.2H9.3V4.9Z" fill="#3db657" stroke="#3db657" stroke-width=".5" stroke-linejoin="round"/></svg>
<div class="t " style="left:777.6px;top:594.84px;font-size:9.9px;color:#2b2b2b;font-weight:400;">Item Name</div>
<div class="t " style="left:858px;top:594.90px;font-size:9.75px;color:#2b2b2b;font-weight:400;">$45.99</div>
<div class="t " style="left:926px;top:594.90px;font-size:9.75px;color:#2b2b2b;font-weight:400;">$56.99</div>
<div class="t " style="left:1002px;top:594.90px;font-size:9.75px;color:#2b2b2b;font-weight:400;">20%</div>
<div class="t " style="left:1068px;top:594.90px;font-size:9.75px;color:#ee4036;font-weight:400;">$13.50</div>
<svg class="abs" style="left:1103px;top:596.4px;" width="10" height="8" viewBox="0 0 10 8" fill="none"><path d="M0.8 1.2L3.8 4.2L5.6 2.6L8.2 5.8" stroke="#ee4036" stroke-width="1.3" stroke-linecap="round" stroke-linejoin="round"/><path d="M5.6 6.8H9.3V3.1Z" fill="#ee4036" stroke="#ee4036" stroke-width=".5" stroke-linejoin="round"/></svg>
<div class="t " style="left:777.6px;top:620.24px;font-size:9.9px;color:#2b2b2b;font-weight:400;">Item Name</div>
<div class="t " style="left:858px;top:620.30px;font-size:9.75px;color:#2b2b2b;font-weight:400;">$45.99</div>
<div class="t " style="left:926px;top:620.30px;font-size:9.75px;color:#2b2b2b;font-weight:400;">$56.99</div>
<div class="t " style="left:1002px;top:620.30px;font-size:9.75px;color:#2b2b2b;font-weight:400;">20%</div>
<div class="t " style="left:1068px;top:620.30px;font-size:9.75px;color:#3db657;font-weight:400;">$23.00</div>
<svg class="abs" style="left:1103px;top:620.5px;" width="10" height="8" viewBox="0 0 10 8" fill="none"><path d="M0.8 6.8L3.8 3.8L5.6 5.4L8.2 2.2" stroke="#3db657" stroke-width="1.3" stroke-linecap="round" stroke-linejoin="round"/><path d="M5.6 1.2H9.3V4.9Z" fill="#3db657" stroke="#3db657" stroke-width=".5" stroke-linejoin="round"/></svg>
<div class="t " style="left:777.6px;top:645.74px;font-size:9.9px;color:#2b2b2b;font-weight:400;">Item Name</div>
<div class="t " style="left:858px;top:645.80px;font-size:9.75px;color:#2b2b2b;font-weight:400;">$45.99</div>
<div class="t " style="left:926px;top:645.80px;font-size:9.75px;color:#2b2b2b;font-weight:400;">$56.99</div>
<div class="t " style="left:1002px;top:645.80px;font-size:9.75px;color:#2b2b2b;font-weight:400;">20%</div>
<div class="t " style="left:1068px;top:645.80px;font-size:9.75px;color:#3db657;font-weight:400;">$23.00</div>
<svg class="abs" style="left:1103px;top:646.0px;" width="10" height="8" viewBox="0 0 10 8" fill="none"><path d="M0.8 6.8L3.8 3.8L5.6 5.4L8.2 2.2" stroke="#3db657" stroke-width="1.3" stroke-linecap="round" stroke-linejoin="round"/><path d="M5.6 1.2H9.3V4.9Z" fill="#3db657" stroke="#3db657" stroke-width=".5" stroke-linejoin="round"/></svg>
<div class="t " style="left:777.6px;top:671.14px;font-size:9.9px;color:#2b2b2b;font-weight:400;">Item Name</div>
<div class="t " style="left:858px;top:671.20px;font-size:9.75px;color:#2b2b2b;font-weight:400;">$45.99</div>
<div class="t " style="left:926px;top:671.20px;font-size:9.75px;color:#2b2b2b;font-weight:400;">$56.99</div>
<div class="t " style="left:1002px;top:671.20px;font-size:9.75px;color:#2b2b2b;font-weight:400;">20%</div>
<div class="t " style="left:1068px;top:671.20px;font-size:9.75px;color:#3db657;font-weight:400;">$23.00</div>
<svg class="abs" style="left:1103px;top:671.4px;" width="10" height="8" viewBox="0 0 10 8" fill="none"><path d="M0.8 6.8L3.8 3.8L5.6 5.4L8.2 2.2" stroke="#3db657" stroke-width="1.3" stroke-linecap="round" stroke-linejoin="round"/><path d="M5.6 1.2H9.3V4.9Z" fill="#3db657" stroke="#3db657" stroke-width=".5" stroke-linejoin="round"/></svg>
<div class="t " style="left:777.6px;top:696.54px;font-size:9.9px;color:#2b2b2b;font-weight:400;">Item Name</div>
<div class="t " style="left:858px;top:696.61px;font-size:9.75px;color:#2b2b2b;font-weight:400;">$45.99</div>
<div class="t " style="left:926px;top:696.61px;font-size:9.75px;color:#2b2b2b;font-weight:400;">$56.99</div>
<div class="t " style="left:1002px;top:696.61px;font-size:9.75px;color:#2b2b2b;font-weight:400;">20%</div>
<div class="t " style="left:1068px;top:696.61px;font-size:9.75px;color:#ee4036;font-weight:400;">$13.50</div>
<svg class="abs" style="left:1103px;top:698.1px;" width="10" height="8" viewBox="0 0 10 8" fill="none"><path d="M0.8 1.2L3.8 4.2L5.6 2.6L8.2 5.8" stroke="#ee4036" stroke-width="1.3" stroke-linecap="round" stroke-linejoin="round"/><path d="M5.6 6.8H9.3V3.1Z" fill="#ee4036" stroke="#ee4036" stroke-width=".5" stroke-linejoin="round"/></svg>
<div class="t " style="left:777.6px;top:721.94px;font-size:9.9px;color:#2b2b2b;font-weight:400;">Item Name</div>
<div class="t " style="left:858px;top:722.00px;font-size:9.75px;color:#2b2b2b;font-weight:400;">$45.99</div>
<div class="t " style="left:926px;top:722.00px;font-size:9.75px;color:#2b2b2b;font-weight:400;">$56.99</div>
<div class="t " style="left:1002px;top:722.00px;font-size:9.75px;color:#2b2b2b;font-weight:400;">20%</div>
<div class="t " style="left:1068px;top:722.00px;font-size:9.75px;color:#ee4036;font-weight:400;">$13.50</div>
<svg class="abs" style="left:1103px;top:723.5px;" width="10" height="8" viewBox="0 0 10 8" fill="none"><path d="M0.8 1.2L3.8 4.2L5.6 2.6L8.2 5.8" stroke="#ee4036" stroke-width="1.3" stroke-linecap="round" stroke-linejoin="round"/><path d="M5.6 6.8H9.3V3.1Z" fill="#ee4036" stroke="#ee4036" stroke-width=".5" stroke-linejoin="round"/></svg>
<div class="t " style="left:777.6px;top:747.34px;font-size:9.9px;color:#2b2b2b;font-weight:400;">Item Name</div>
<div class="t " style="left:858px;top:747.40px;font-size:9.75px;color:#2b2b2b;font-weight:400;">$45.99</div>
<div class="t " style="left:926px;top:747.40px;font-size:9.75px;color:#2b2b2b;font-weight:400;">$56.99</div>
<div class="t " style="left:1002px;top:747.40px;font-size:9.75px;color:#2b2b2b;font-weight:400;">20%</div>
<div class="t " style="left:1068px;top:747.40px;font-size:9.75px;color:#ee4036;font-weight:400;">$13.50</div>
<svg class="abs" style="left:1103px;top:748.9px;" width="10" height="8" viewBox="0 0 10 8" fill="none"><path d="M0.8 1.2L3.8 4.2L5.6 2.6L8.2 5.8" stroke="#ee4036" stroke-width="1.3" stroke-linecap="round" stroke-linejoin="round"/><path d="M5.6 6.8H9.3V3.1Z" fill="#ee4036" stroke="#ee4036" stroke-width=".5" stroke-linejoin="round"/></svg>
</body>
</html>
